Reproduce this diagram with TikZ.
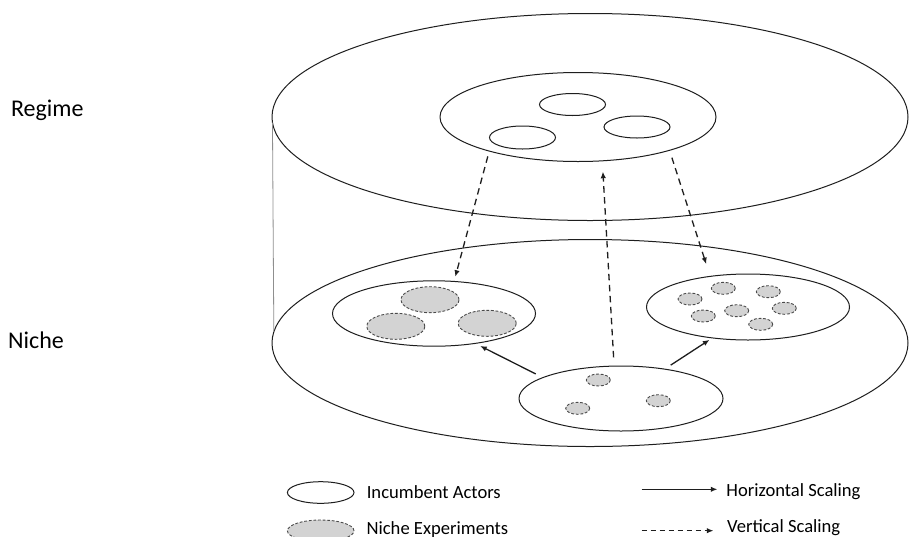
\documentclass[tikz,border=0pt]{standalone}
\usepackage{fontspec}
\setmainfont{Carlito}
\usetikzlibrary{shapes.geometric,arrows.meta}
\definecolor{ink}{HTML}{1E1E1E}
\definecolor{nichefill}{HTML}{D3D3D3}
\definecolor{nicheline}{HTML}{4A4A4A}
\definecolor{sidegray}{HTML}{8F8F8F}
\tikzset{
  actor/.style={ellipse, draw=ink, line width=1pt, inner sep=0pt, outer sep=0pt},
  expt/.style={ellipse, draw=nicheline, fill=nichefill, line width=0.9pt,
    dash pattern=on 2.8pt off 1.8pt, inner sep=0pt, outer sep=0pt},
  smallexpt/.style={expt, minimum width=24pt, minimum height=12pt},
  bigexpt/.style={expt, minimum width=58pt, minimum height=26pt},
  hscale/.style={draw=ink, line width=1.3pt, -{Latex[length=6.5pt,width=5.5pt]}},
  vscale/.style={hscale, dash pattern=on 6.5pt off 4.5pt},
  legvscale/.style={hscale, dash pattern=on 5pt off 4pt},
  sideline/.style={draw=sidegray, line width=0.8pt},
  lbl/.style={inner sep=0pt, anchor=base west, text=black},
  biglbl/.style={lbl, font=\fontsize{24}{28}\selectfont},
  leglbl/.style={lbl, font=\fontsize{18.6}{22}\selectfont},
}
\begin{document}
\begin{tikzpicture}[x=1pt,y=-1pt]
\clip (0,0) rectangle (909,536);
\fill[white] (0,0) rectangle (909,536);

% layer labels
\node[biglbl] (regimelbl) at (10.8,116.7) {Regime};
\node[biglbl] (nichelbl) at (8,348.3) {Niche};

% cylinder
\node[actor, minimum width=636pt, minimum height=207pt] (topbig) at (590,117) {};
\node[actor, minimum width=636pt, minimum height=207pt] (botbig) at (590,343) {};
\draw[sideline] (topbig.181.7) -- (botbig.178.3);

% regime
\node[actor, minimum width=276pt, minimum height=89pt] (regime) at (578,117) {};
\node[actor, minimum width=66pt, minimum height=22pt] (ra) at (572.5,104.5) {};
\node[actor, minimum width=66pt, minimum height=23pt] (rb) at (522.5,137.5) {};
\node[actor, minimum width=66pt, minimum height=22pt] (rc) at (637,127) {};

% niche: left group
\node[actor, minimum width=203pt, minimum height=65.4pt] (nicheL) at (434,313.5) {};
\node[bigexpt] (la) at (430,299.7) {};
\node[bigexpt] (lb) at (395.8,326.3) {};
\node[bigexpt] (lc) at (487.2,323.3) {};

% niche: right group
\node[actor, minimum width=203pt, minimum height=66pt] (nicheR) at (748,307) {};
\node[smallexpt] (r1) at (723.3,288.3) {};
\node[smallexpt] (r2) at (768.3,291.7) {};
\node[smallexpt] (r3) at (690,299) {};
\node[smallexpt] (r4) at (784.3,308.3) {};
\node[smallexpt] (r5) at (736.7,310.7) {};
\node[smallexpt] (r6) at (703.3,316) {};
\node[smallexpt] (r7) at (760.7,324.3) {};

% niche: bottom group
\node[actor, minimum width=204pt, minimum height=65pt] (nicheB) at (621,398.5) {};
\node[smallexpt] (b1) at (598.3,380) {};
\node[smallexpt] (b2) at (658.3,400.7) {};
\node[smallexpt] (b3) at (577.7,408.3) {};

% vertical scaling
\draw[vscale, shorten <=5.5pt, shorten >=4.9pt] (regime.201.2) -- (nicheL.58.7);
\draw[vscale, shorten <=8.8pt, shorten >=10.9pt] (nicheB.102.2) -- (regime.299.1);
\draw[vscale, shorten <=7.7pt, shorten >=12.9pt] (regime.340) -- (nicheR.141.2);

% horizontal scaling
\draw[hscale, shorten <=8.1pt, shorten >=5.7pt] (nicheB.165.6) -- (nicheL.324.4);
\draw[hscale, shorten <=7.3pt, shorten >=3.6pt] (nicheB.34.5) -- (nicheR.221.2);

% legend
\node[actor, minimum width=66.6pt, minimum height=21.6pt] (legA) at (320.7,492.5) {};
\node[expt, minimum width=66.6pt, minimum height=21.6pt] (legN) at (320.7,530.8) {};
\node[leglbl] (legAtxt) at (366.6,498) {Incumbent Actors};
\node[leglbl] (legNtxt) at (366.4,534) {Niche Experiments};

\coordinate (hsA) at (641.7,489.3);
\coordinate (hsB) at (717.3,489.3);
\coordinate (vsA) at (641.7,530.7);
\coordinate (vsB) at (713.3,530.7);
\draw[hscale, line width=1.1pt] (hsA) -- (hsB);
\draw[legvscale, line width=1.1pt] (vsA) -- (vsB);
\node[leglbl] (hstxt) at (726.2,496.7) {Horizontal Scaling};
\node[leglbl] (vstxt) at (727,532) {Vertical Scaling};
\end{tikzpicture}
\end{document}
